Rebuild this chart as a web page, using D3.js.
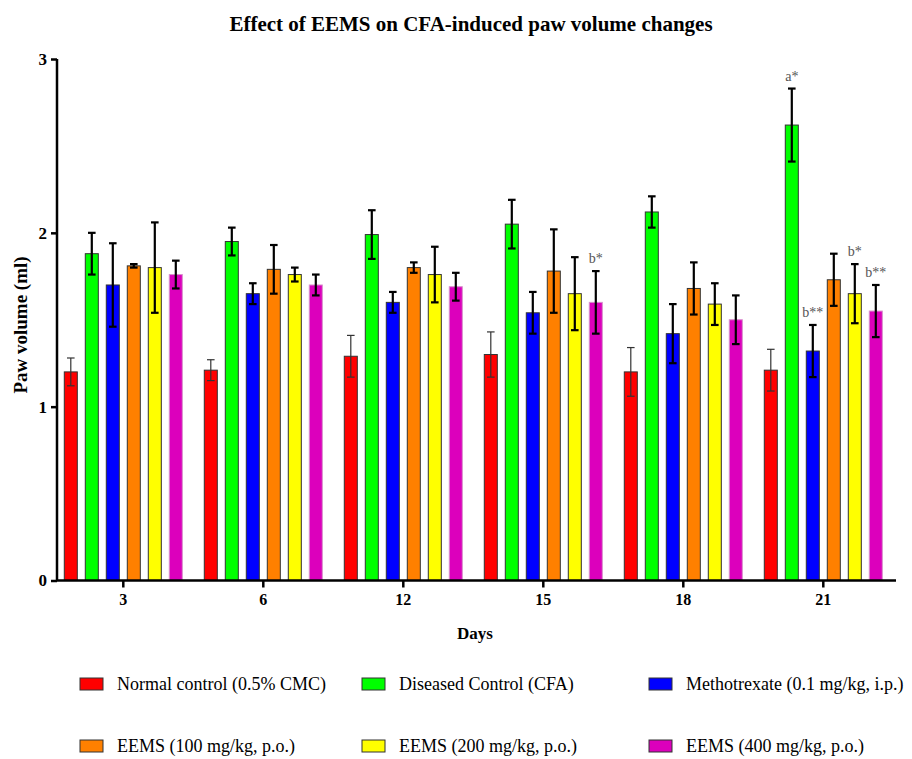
<!DOCTYPE html>
<html><head><meta charset="utf-8">
<script src="https://cdn.jsdelivr.net/npm/d3@7"></script>
<style>body{margin:0;background:#fff} svg{display:block}</style>
</head><body><svg id="c" width="912" height="759"></svg>
<script>
const days = ["3","6","12","15","18","21"];
const seriesNames = ["Normal control (0.5% CMC)","Diseased Control (CFA)","Methotrexate (0.1 mg/kg, i.p.)","EEMS (100 mg/kg, p.o.)","EEMS (200 mg/kg, p.o.)","EEMS (400 mg/kg, p.o.)"];
const seriesColors = ["#ff0000","#00ff00","#0000ff","#ff8000","#ffff00","#dc00bc"];
const normalControl = [1.20,1.21,1.29,1.30,1.20,1.21];
const normalControlErr = [0.08,0.06,0.12,0.13,0.14,0.12];
const diseasedControl = [1.88,1.95,1.99,2.05,2.12,2.62];
const diseasedControlErr = [0.12,0.08,0.14,0.14,0.09,0.21];
const methotrexate = [1.70,1.65,1.60,1.54,1.42,1.32];
const methotrexateErr = [0.24,0.06,0.06,0.12,0.17,0.15];
const eems100 = [1.81,1.79,1.80,1.78,1.68,1.73];
const eems100Err = [0.01,0.14,0.03,0.24,0.15,0.15];
const eems200 = [1.80,1.76,1.76,1.65,1.59,1.65];
const eems200Err = [0.26,0.04,0.16,0.21,0.12,0.17];
const eems400 = [1.76,1.70,1.69,1.60,1.50,1.55];
const eems400Err = [0.08,0.06,0.08,0.18,0.14,0.15];
const yTicks = [0,1,2,3];
const annotDays = ["15","21","21","21","21"];
const annotSeries = [5,1,2,4,5];
const annotLabels = ["b*","a*","b**","b*","b**"];

const values = [normalControl, diseasedControl, methotrexate, eems100, eems200, eems400];
const errors = [normalControlErr, diseasedControlErr, methotrexateErr, eems100Err, eems200Err, eems400Err];
const serif = "'Liberation Serif','Times New Roman',serif";

const svg = d3.select("#c");
const x0 = d3.scaleBand().domain(days).range([53.3, 893.3]).padding(0);
const x1 = d3.scaleBand().domain(d3.range(6)).range([7, 133]).paddingInner(0.38).paddingOuter(0.19);
const y = d3.scaleLinear().domain([0, 3]).range([580.5, 59]);

// title
svg.append("text").attr("x", 471).attr("y", 31).attr("text-anchor", "middle")
  .style("font-family", serif).style("font-weight", "bold").style("font-size", "21px")
  .text("Effect of EEMS on CFA-induced paw volume changes");

const cells = [];
values.forEach((arr, s) => arr.forEach((v, i) => cells.push({s, day: days[i], v, e: errors[s][i]})));

const g = svg.append("g");
g.selectAll("rect.bar").data(cells).join("rect").attr("class", "bar")
  .attr("x", d => x0(d.day) + x1(d.s))
  .attr("y", d => y(d.v))
  .attr("width", x1.bandwidth())
  .attr("height", d => y(0) - y(d.v))
  .attr("fill", d => seriesColors[d.s])
  .attr("stroke", d => d.s === 5 ? "#d890cc" : "#333")
  .attr("stroke-width", 1);

const cap = 3.8;
const eb = g.selectAll("g.eb").data(cells).join("g").attr("class", "eb")
  .attr("stroke", d => d.s === 0 ? "#333" : "#000")
  .attr("stroke-width", d => d.s === 0 ? 1.2 : 2.2);
eb.append("line")
  .attr("x1", d => x0(d.day) + x1(d.s) + x1.bandwidth() / 2)
  .attr("x2", d => x0(d.day) + x1(d.s) + x1.bandwidth() / 2)
  .attr("y1", d => y(d.v - d.e)).attr("y2", d => y(d.v + d.e));
eb.append("line")
  .attr("x1", d => x0(d.day) + x1(d.s) + x1.bandwidth() / 2 - cap)
  .attr("x2", d => x0(d.day) + x1(d.s) + x1.bandwidth() / 2 + cap)
  .attr("y1", d => y(d.v + d.e)).attr("y2", d => y(d.v + d.e));
eb.append("line")
  .attr("x1", d => x0(d.day) + x1(d.s) + x1.bandwidth() / 2 - cap)
  .attr("x2", d => x0(d.day) + x1(d.s) + x1.bandwidth() / 2 + cap)
  .attr("y1", d => y(d.v - d.e)).attr("y2", d => y(d.v - d.e));

// annotations
const ann = annotLabels.map((t, k) => ({t, day: annotDays[k], s: annotSeries[k]}));
g.selectAll("text.ann").data(ann).join("text").attr("class", "ann")
  .attr("x", d => x0(d.day) + x1(d.s) + x1.bandwidth() / 2)
  .attr("y", d => { const i = days.indexOf(d.day); return y(values[d.s][i] + errors[d.s][i]) - 8; })
  .attr("text-anchor", "middle")
  .style("font-family", serif).style("font-size", "14px").attr("fill", "#555")
  .text(d => d.t);

// axes
const xAxis = svg.append("g").attr("transform", `translate(0,${y(0)})`)
  .call(d3.axisBottom(x0).tickSize(7).tickPadding(6));
xAxis.select(".domain").attr("stroke-width", 2.5).attr("d", `M57,0H896`);
xAxis.selectAll(".tick line").attr("stroke-width", 2.5);
xAxis.selectAll(".tick text").style("font-family", serif).style("font-weight", "bold").style("font-size", "16px").attr("fill", "#000");

const yAxis = svg.append("g").attr("transform", `translate(57,0)`)
  .call(d3.axisLeft(y).tickValues(yTicks).tickFormat(d3.format("d")).tickSize(6).tickPadding(4));
yAxis.select(".domain").attr("stroke-width", 2.5).attr("d", `M0,${y(3)}V${y(0)}`);
yAxis.selectAll(".tick line").attr("stroke-width", 2.5);
yAxis.selectAll(".tick text").style("font-family", serif).style("font-weight", "bold").style("font-size", "17px").attr("fill", "#000");

svg.append("text").attr("x", 475).attr("y", 639).attr("text-anchor", "middle")
  .style("font-family", serif).style("font-weight", "bold").style("font-size", "17px").text("Days");

svg.append("text").attr("transform", "translate(27,325) rotate(-90)").attr("text-anchor", "middle")
  .style("font-family", serif).style("font-weight", "bold").style("font-size", "19px").text("Paw volume (ml)");

// legend
const legX = [80, 362, 649];
const legY = [684, 746];
const leg = svg.append("g").selectAll("g").data(seriesNames).join("g")
  .attr("transform", (d, i) => `translate(${legX[i % 3]},${legY[Math.floor(i / 3)]})`);
leg.append("rect").attr("x", 0).attr("y", -6).attr("width", 23).attr("height", 12)
  .attr("fill", (d, i) => seriesColors[i]).attr("stroke", "#333").attr("stroke-width", 1);
leg.append("text").attr("x", 37).attr("y", 6)
  .style("font-family", serif).style("font-size", "18px").text(d => d);
</script></body></html>
